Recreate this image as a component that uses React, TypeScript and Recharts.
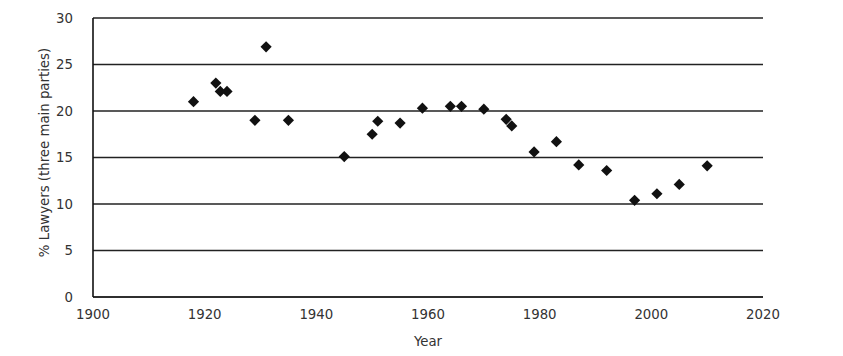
import React from 'react';
import { ScatterChart, Scatter, XAxis, YAxis, CartesianGrid, Label } from 'recharts';

const years = [1918, 1922, 1922.8, 1924, 1929, 1931, 1935, 1945, 1950, 1951, 1955, 1959, 1964, 1966, 1970, 1974, 1975, 1979, 1983, 1987, 1992, 1997, 2001, 2005, 2010];
const lawyerShare = [21.0, 23.0, 22.1, 22.1, 19.0, 26.9, 19.0, 15.1, 17.5, 18.9, 18.7, 20.3, 20.5, 20.5, 20.2, 19.1, 18.4, 15.6, 16.7, 14.2, 13.6, 10.4, 11.1, 12.1, 14.1];
const xTicks = [1900, 1920, 1940, 1960, 1980, 2000, 2020];
const yTicks = [0, 5, 10, 15, 20, 25, 30];

const data = years.map((y, i) => ({ year: y, pct: lawyerShare[i] }));

const FONT = 'DejaVu Sans';
const TXT = '#333';

const Diamond = (props: any) => {
  const { cx, cy } = props;
  const r = 5.6;
  return (
    <polygon
      points={`${cx},${cy - r} ${cx + r},${cy} ${cx},${cy + r} ${cx - r},${cy}`}
      fill="#111"
    />
  );
};

const YLabel = (props: any) => {
  const vb = props.viewBox || {};
  const cx = (vb.x ?? 0) + 49;
  const cy = (vb.y ?? 0) + (vb.height ?? 0) / 2 - 5;
  return (
    <text
      x={cx}
      y={cy}
      transform={`rotate(-90, ${cx}, ${cy})`}
      textAnchor="middle"
      fontFamily={FONT}
      fontSize={13.3}
      fill={TXT}
    >
      % Lawyers (three main parties)
    </text>
  );
};

export default function App() {
  return (
    <div style={{ position: 'absolute', left: 0, top: 0 }}>
      <ScatterChart width={843} height={356} margin={{ top: 18, right: 80, bottom: 0, left: 0 }}>
        <CartesianGrid horizontal vertical={false} stroke="#222" strokeWidth={1.3} />
        <XAxis
          type="number"
          dataKey="year"
          domain={[1900, 2020]}
          ticks={xTicks}
          height={59}
          tickLine={false}
          axisLine={{ stroke: '#222', strokeWidth: 1.3 }}
          tickMargin={7}
          tick={{ fontFamily: FONT, fontSize: 13.3, fill: TXT }}
          interval={0}
        >
          <Label value="Year" position="insideBottom" offset={10} style={{ fontFamily: FONT, fontSize: 13.3, fill: TXT }} />
        </XAxis>
        <YAxis
          type="number"
          dataKey="pct"
          domain={[0, 30]}
          ticks={yTicks}
          width={93}
          tickLine={false}
          axisLine={{ stroke: '#111', strokeWidth: 1.6 }}
          tickMargin={14}
          tick={{ fontFamily: FONT, fontSize: 13.3, fill: TXT }}
          interval={0}
        >
          <Label content={<YLabel />} />
        </YAxis>
        <Scatter data={data} shape={<Diamond />} isAnimationActive={false} />
      </ScatterChart>
    </div>
  );
}
